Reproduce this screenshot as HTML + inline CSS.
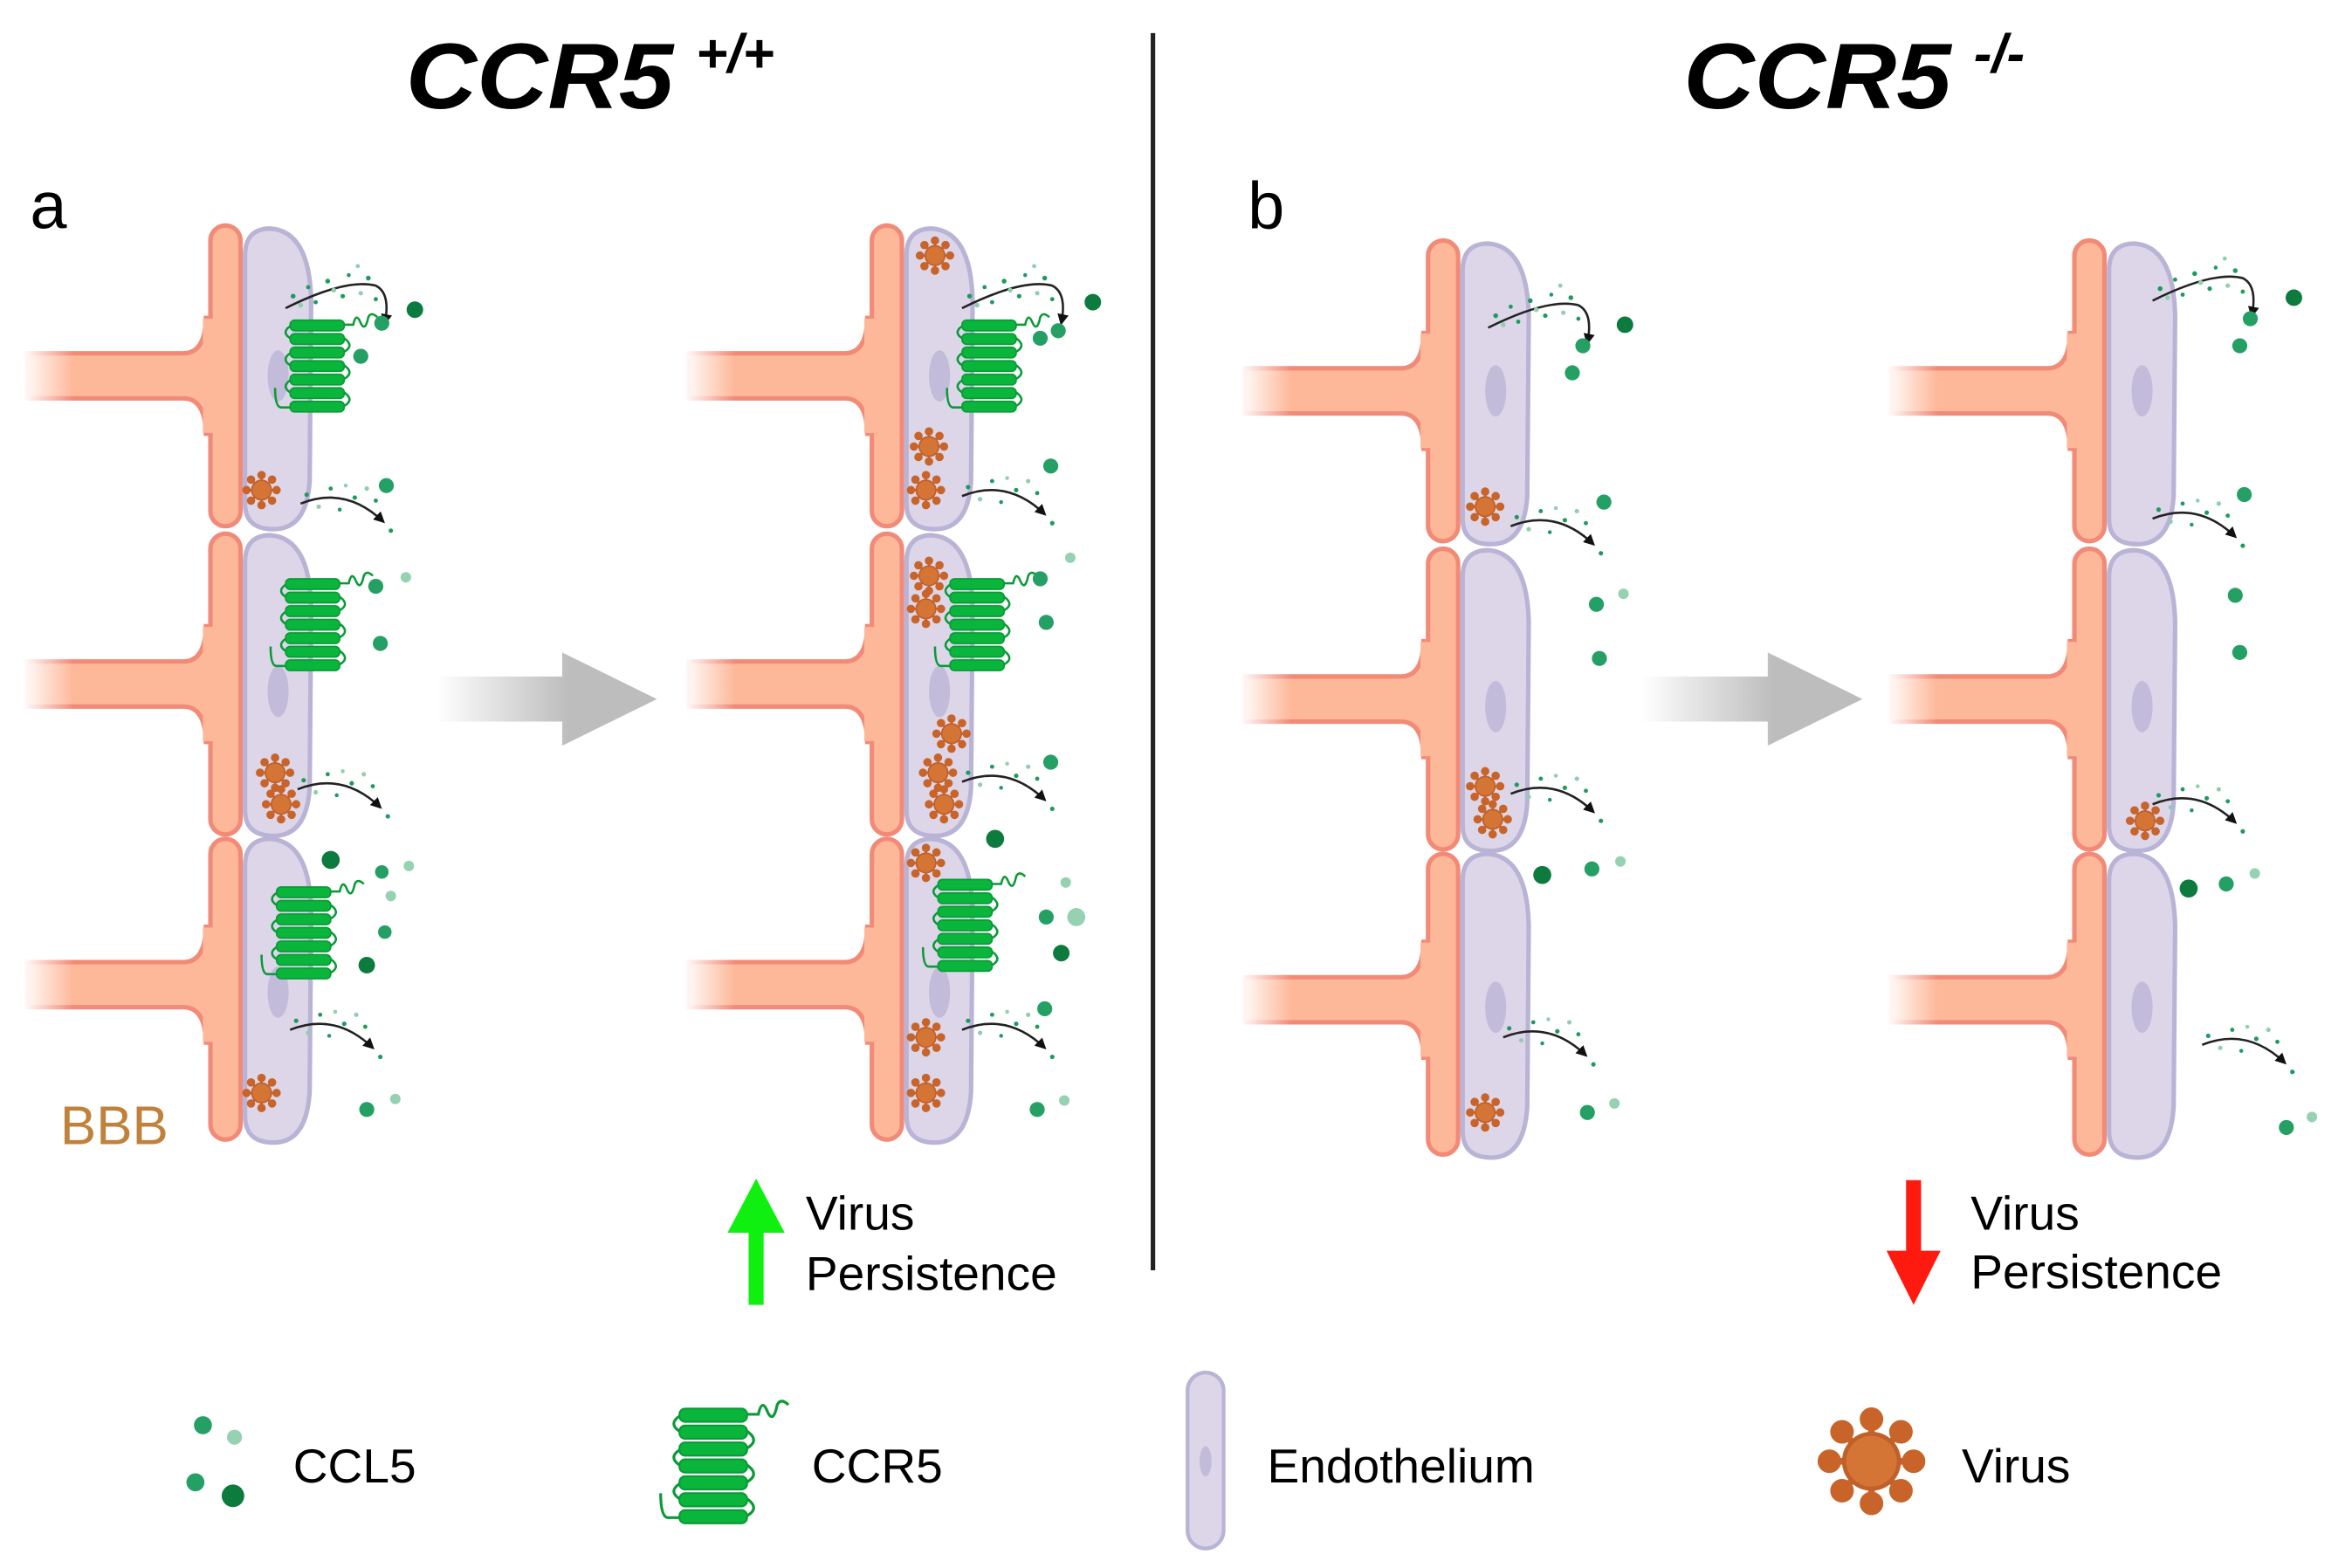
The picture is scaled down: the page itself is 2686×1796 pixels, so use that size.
<!DOCTYPE html>
<html><head><meta charset="utf-8"><style>
html,body{margin:0;padding:0;background:#fff;}
svg{display:block;}
text{font-family:"Liberation Sans",sans-serif;}
</style></head><body>
<svg width="2686" height="1796" viewBox="0 0 1560 1043" preserveAspectRatio="none" xmlns="http://www.w3.org/2000/svg">
<defs>
<linearGradient id="fade" x1="0" x2="1" y1="0" y2="0">
<stop offset="0" stop-color="#fff" stop-opacity="1"/><stop offset="1" stop-color="#fff" stop-opacity="0"/></linearGradient>
<linearGradient id="gfade" x1="0" x2="1" y1="0" y2="0">
<stop offset="0" stop-color="#bdbdbd" stop-opacity="0"/><stop offset="0.6" stop-color="#bdbdbd" stop-opacity="1"/></linearGradient>
<g id="foot">
<path d="M-122,-15 H-18 Q-3,-15 -3,-40 V40 Q-3,15 -18,15 H-122 Z" fill="#fdb899" stroke="#f28a78" stroke-width="3"/>
</g>
<g id="col">
<use href="#foot" y="100"/><use href="#foot" y="305"/><use href="#foot" y="505"/>
<rect x="-125" y="83" width="34" height="34" fill="url(#fade)"/>
<rect x="-125" y="288" width="34" height="34" fill="url(#fade)"/>
<rect x="-125" y="488" width="34" height="34" fill="url(#fade)"/>
<rect x="0" y="0" width="20" height="200" rx="10" fill="#fdb899" stroke="#f28a78" stroke-width="3"/>
<rect x="0" y="205" width="20" height="200" rx="10" fill="#fdb899" stroke="#f28a78" stroke-width="3"/>
<rect x="0" y="408" width="20" height="200" rx="10" fill="#fdb899" stroke="#f28a78" stroke-width="3"/>
<rect x="-5" y="62" width="7" height="76" fill="#fdb899"/>
<rect x="-5" y="267" width="7" height="76" fill="#fdb899"/>
<rect x="-5" y="467" width="7" height="76" fill="#fdb899"/>
<path d="M23,20 Q23,2 40,2 Q66,4 67,50 L66,170 Q64,202 42,202 Q23,202 23,185 Z" fill="#dcd6e8" stroke="#b9b3d6" stroke-width="3"/>
<path d="M23,224 Q23,206 40,206 Q66,208 67,254 L66,374 Q64,406 42,406 Q23,406 23,389 Z" fill="#dcd6e8" stroke="#b9b3d6" stroke-width="3"/>
<path d="M23,426 Q23,408 40,408 Q66,410 67,456 L66,576 Q64,610 42,610 Q23,610 23,592 Z" fill="#dcd6e8" stroke="#b9b3d6" stroke-width="3"/>
<ellipse cx="45" cy="100" rx="7" ry="17" fill="#c2bbd9"/>
<ellipse cx="45" cy="310" rx="7" ry="17" fill="#c2bbd9"/>
<ellipse cx="45" cy="510" rx="7" ry="17" fill="#c2bbd9"/>
</g>
<g id="rec">
<g fill="#0ab53c" stroke="#0a9a38" stroke-width="1">
<rect x="0" y="0" width="36" height="7" rx="3"/><rect x="0" y="9" width="36" height="7" rx="3"/>
<rect x="0" y="18" width="36" height="7" rx="3"/><rect x="0" y="27" width="36" height="7" rx="3"/>
<rect x="0" y="36" width="36" height="7" rx="3"/><rect x="0" y="45" width="36" height="7" rx="3"/>
<rect x="0" y="54" width="36" height="7" rx="3"/></g>
<g fill="none" stroke="#0a9a38" stroke-width="1.5">
<path d="M0,4 Q-6,8 0,12"/><path d="M0,22 Q-6,26 0,30"/><path d="M0,40 Q-6,44 0,48"/>
<path d="M36,12 Q43,17 36,21"/><path d="M36,30 Q43,35 36,39"/><path d="M36,48 Q43,53 36,57"/>
<path d="M36,3 H42 Q44,-6 47,2 Q50,8 52,-2 Q54,-6 58,-2"/>
<path d="M0,58 H-6 Q-10,58 -10,45"/></g>
</g>
<g id="vir">
<g stroke="#c8642a" stroke-width="1.6" fill="#c8642a">
<line x1="-10" y1="0" x2="10" y2="0"/><line x1="0" y1="-10" x2="0" y2="10"/>
<line x1="-7" y1="-7" x2="7" y2="7"/><line x1="-7" y1="7" x2="7" y2="-7"/>
<circle cx="-10" cy="0" r="2"/><circle cx="10" cy="0" r="2"/><circle cx="0" cy="-10" r="2"/><circle cx="0" cy="10" r="2"/>
<circle cx="-7" cy="-7" r="2"/><circle cx="7" cy="7" r="2"/><circle cx="-7" cy="7" r="2"/><circle cx="7" cy="-7" r="2"/></g>
<circle r="6.5" fill="#d47536" stroke="#c0602a" stroke-width="1"/>
</g>
<marker id="ah" viewBox="0 0 10 10" refX="8" refY="5" markerWidth="5" markerHeight="5" orient="auto"><path d="M0,0 L10,5 L0,10 Z" fill="#111"/></marker>
<g id="spray">
<path d="M0,0 Q40,-20 60,-15 Q70,-10 66,10" fill="none" stroke="#222" stroke-width="1.5" marker-end="url(#ah)"/>
<g fill="#1e9a5e"><circle cx="5" cy="-8" r="1.6"/><circle cx="15" cy="-14" r="1.4"/><circle cx="28" cy="-18" r="1.6"/><circle cx="42" cy="-22" r="1.3"/><circle cx="55" cy="-20" r="1.6"/><circle cx="20" cy="-4" r="1.4"/><circle cx="38" cy="-8" r="1.5"/><circle cx="60" cy="-6" r="1.4"/></g>
<g fill="#8fcfae"><circle cx="10" cy="-2" r="1.6"/><circle cx="32" cy="-12" r="1.6"/><circle cx="50" cy="-10" r="1.5"/><circle cx="48" cy="-28" r="1.4"/></g>
</g>
<g id="spray2">
<path d="M0,0 Q30,-12 55,12" fill="none" stroke="#222" stroke-width="1.5" marker-end="url(#ah)"/>
<g fill="#1e9a5e"><circle cx="4" cy="-6" r="1.5"/><circle cx="20" cy="-10" r="1.4"/><circle cx="36" cy="-4" r="1.5"/><circle cx="50" cy="-2" r="1.4"/><circle cx="60" cy="18" r="1.5"/><circle cx="26" cy="4" r="1.3"/></g>
<g fill="#8fcfae"><circle cx="12" cy="2" r="1.5"/><circle cx="44" cy="-10" r="1.5"/><circle cx="30" cy="-12" r="1.3"/></g>
</g>
</defs>

<!-- titles -->
<text x="270" y="72" font-size="62" font-weight="bold" font-style="italic" textLength="178" lengthAdjust="spacingAndGlyphs">CCR5</text>
<text x="463" y="48" font-size="36" font-weight="bold" font-style="italic">+/+</text>
<text x="1120" y="72" font-size="62" font-weight="bold" font-style="italic" textLength="178" lengthAdjust="spacingAndGlyphs">CCR5</text>
<text x="1313" y="48" font-size="36" font-weight="bold" font-style="italic">-/-</text>
<line x1="767" y1="22" x2="767" y2="845" stroke="#222" stroke-width="3"/>
<text x="20" y="152" font-size="44">a</text>
<text x="830" y="152" font-size="44">b</text>
<text x="40" y="761" font-size="36" fill="#c0823a">BBB</text>

<use href="#col" x="140" y="150"/>
<use href="#col" x="580" y="150"/>
<use href="#col" x="950" y="160"/>
<use href="#col" x="1380" y="160"/>

<!-- receptors -->
<use href="#rec" x="193" y="213"/><use href="#rec" x="190" y="385"/><use href="#rec" x="184" y="590"/>
<use href="#rec" x="640" y="213"/><use href="#rec" x="632" y="385"/><use href="#rec" x="624" y="585"/>

<!-- sprays -->
<use href="#spray" x="190" y="205"/><use href="#spray2" x="200" y="335"/><use href="#spray2" x="198" y="525"/><use href="#spray2" x="193" y="685"/>
<use href="#spray" x="640" y="205"/><use href="#spray2" x="640" y="330"/><use href="#spray2" x="640" y="520"/><use href="#spray2" x="640" y="685"/>
<use href="#spray" x="990" y="218"/><use href="#spray2" x="1005" y="350"/><use href="#spray2" x="1005" y="528"/><use href="#spray2" x="1000" y="690"/>
<use href="#spray" x="1432" y="200"/><use href="#spray2" x="1432" y="345"/><use href="#spray2" x="1432" y="535"/><use href="#spray2" x="1465" y="695"/>

<!-- CCL5 dots -->
<g fill="#25a065">
<circle cx="254" cy="215" r="5"/><circle cx="240" cy="237" r="5"/><circle cx="257" cy="323" r="5"/><circle cx="250" cy="390" r="5"/><circle cx="253" cy="428" r="5"/><circle cx="254" cy="580" r="4.5"/><circle cx="256" cy="620" r="4.5"/><circle cx="244" cy="738" r="5"/>
<circle cx="704" cy="220" r="5"/><circle cx="692" cy="225" r="5"/><circle cx="699" cy="310" r="5"/><circle cx="692" cy="385" r="5"/><circle cx="696" cy="414" r="5"/><circle cx="699" cy="507" r="5"/><circle cx="696" cy="610" r="5"/><circle cx="695" cy="671" r="5"/><circle cx="690" cy="738" r="5"/>
<circle cx="1053" cy="230" r="5"/><circle cx="1046" cy="248" r="5"/><circle cx="1067" cy="334" r="5"/><circle cx="1062" cy="402" r="5"/><circle cx="1064" cy="438" r="5"/><circle cx="1059" cy="578" r="5"/><circle cx="1056" cy="740" r="5"/>
<circle cx="1497" cy="212" r="5"/><circle cx="1490" cy="230" r="5"/><circle cx="1493" cy="329" r="5"/><circle cx="1487" cy="396" r="5"/><circle cx="1490" cy="434" r="5"/><circle cx="1481" cy="588" r="5"/><circle cx="1521" cy="750" r="5"/>
</g>
<g fill="#0d7a3e">
<circle cx="276" cy="206" r="5.5"/><circle cx="220" cy="572" r="6"/><circle cx="244" cy="642" r="5.5"/>
<circle cx="727" cy="201" r="5.5"/><circle cx="662" cy="558" r="6"/><circle cx="706" cy="634" r="5.5"/>
<circle cx="1081" cy="216" r="5.5"/><circle cx="1026" cy="582" r="6"/>
<circle cx="1526" cy="198" r="5.5"/><circle cx="1456" cy="591" r="6"/>
</g>
<g fill="#96d2b2">
<circle cx="270" cy="384" r="3.5"/><circle cx="260" cy="596" r="3.5"/><circle cx="272" cy="576" r="3.5"/><circle cx="263" cy="731" r="3.5"/>
<circle cx="712" cy="371" r="3.5"/><circle cx="709" cy="587" r="3.5"/><circle cx="716" cy="610" r="6"/><circle cx="708" cy="732" r="3.5"/>
<circle cx="1080" cy="395" r="3.5"/><circle cx="1078" cy="573" r="3.5"/><circle cx="1074" cy="734" r="3.5"/>
<circle cx="1500" cy="581" r="3.5"/><circle cx="1538" cy="743" r="3.5"/>
</g>

<!-- viruses -->
<use href="#vir" x="174" y="326"/><use href="#vir" x="183" y="514"/><use href="#vir" x="187" y="535"/><use href="#vir" x="174" y="727"/>
<use href="#vir" x="622" y="170"/><use href="#vir" x="618" y="297"/><use href="#vir" x="616" y="326"/><use href="#vir" x="618" y="383"/><use href="#vir" x="616" y="405"/><use href="#vir" x="633" y="488"/><use href="#vir" x="624" y="514"/><use href="#vir" x="628" y="535"/><use href="#vir" x="616" y="574"/><use href="#vir" x="616" y="690"/><use href="#vir" x="616" y="727"/>
<use href="#vir" x="988" y="337"/><use href="#vir" x="988" y="523"/><use href="#vir" x="993" y="545"/><use href="#vir" x="988" y="740"/>
<use href="#vir" x="1427" y="546"/>

<!-- gray arrows -->
<path d="M290,450 H374 V434 L437,465 L374,496 V480 H290 Z" fill="url(#gfade)"/>
<path d="M1092,450 H1176 V434 L1239,465 L1176,496 V480 H1092 Z" fill="url(#gfade)"/>

<!-- persistence -->
<path d="M498,868 V820 H484 L503,784 L522,820 H508 V868 Z" fill="#10f010"/>
<text x="536" y="818" font-size="32">Virus</text>
<text x="536" y="858" font-size="32">Persistence</text>
<path d="M1268,785 V832 H1255 L1273,868 L1291,832 H1278 V785 Z" fill="#ff1a10"/>
<text x="1311" y="818" font-size="32">Virus</text>
<text x="1311" y="857" font-size="32">Persistence</text>

<!-- legend -->
<circle cx="135" cy="948" r="6" fill="#25a065"/><circle cx="156" cy="956" r="5" fill="#96d2b2"/><circle cx="130" cy="986" r="6" fill="#25a065"/><circle cx="155" cy="995" r="7.5" fill="#0d7a3e"/>
<text x="195" y="986" font-size="32">CCL5</text>
<use href="#rec" transform="translate(452,937) scale(1.25)"/>
<text x="540" y="986" font-size="32">CCR5</text>
<rect x="790" y="913" width="24" height="117" rx="12" fill="#dcd6e8" stroke="#b9b3d6" stroke-width="2.5"/>
<ellipse cx="802" cy="972" rx="4" ry="10" fill="#c2bbd9"/>
<text x="843" y="986" font-size="32">Endothelium</text>
<use href="#vir" transform="translate(1245,972) scale(2.8)"/>
<text x="1305" y="986" font-size="32">Virus</text>
</svg>
</body></html>
